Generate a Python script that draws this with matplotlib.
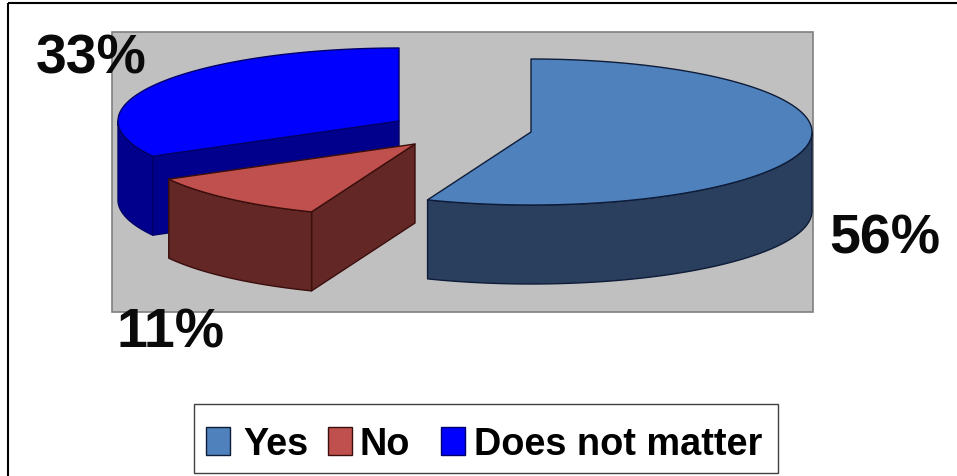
import numpy as np
import matplotlib
matplotlib.use("Agg")
import matplotlib.pyplot as plt
from matplotlib.patches import Polygon, Rectangle

categories = ["Yes", "No", "Does not matter"]
values = [56, 11, 33]
value_labels = ["56%", "11%", "33%"]

top_colors = ["#4F81BD", "#C0504D", "#0000FF"]
wall_colors = ["#2A3F5E", "#632826", "#00008C"]
edge_colors = ["#0E1C38", "#3A0E0C", "#00006A"]

# Exploded slice centres on the canvas (pixel units)
centres = [(531, 133), (415, 145), (399, 122)]
label_anchors = [(829, 254), (117, 348), (36, 73)]
legend_swatch_x = [206, 328, 441]
legend_text_x = [243, 360, 474.5]

RX, RY, DEPTH = 281, 73, 79
FONT = "Liberation Sans"

fig = plt.figure(figsize=(9.57, 4.77), dpi=100)
ax = fig.add_axes([0, 0, 1, 1])
ax.set_xlim(0, 957)
ax.set_ylim(477, 0)
ax.axis("off")


def rim(cx, cy, a0, a1, n=80):
    """Points on the elliptical rim between two clockwise angles from 12 o'clock."""
    t = np.radians(np.linspace(a0, a1, n))
    return np.column_stack([cx + RX * np.sin(t), cy - RY * np.cos(t)])


# Outer frame: top and left rules only
ax.plot([8, 957], [3.5, 3.5], color="black", lw=1.5, solid_capstyle="butt")
ax.plot([8, 8], [3.5, 477], color="black", lw=1.5, solid_capstyle="butt")

# Plot area
ax.add_patch(Rectangle((112, 32.5), 701, 280, fc="#C0C0C0", ec="#808080", lw=1.2))

# Slice extents in degrees, clockwise from the top
edges = np.concatenate([[0], np.cumsum(values)]) / sum(values) * 360
slices = [(i, edges[i], edges[i + 1]) for i in range(len(values))]

# Back slice first, the small front slice last
for i, a0, a1 in [slices[2], slices[0], slices[1]]:
    cx, cy = centres[i]
    shade = dict(fc=wall_colors[i], ec=edge_colors[i], lw=1.0, joinstyle="round")

    # Radial wall facing the viewer
    if 90 < a0 < 270:
        p = rim(cx, cy, a0, a0, 1)[0]
        ax.add_patch(Polygon([(cx, cy), p, (p[0], p[1] + DEPTH), (cx, cy + DEPTH)], **shade))

    # Curved outer wall, only the part on the near side of the ellipse
    w0, w1 = max(a0, 90), min(a1, 270)
    if w1 > w0:
        arc = rim(cx, cy, w0, w1)
        low = (arc + [0, DEPTH])[::-1]
        ax.add_patch(Polygon(np.vstack([arc, low]), **shade))

    # Top face
    face = np.vstack([[(cx, cy)], rim(cx, cy, a0, a1, 160)])
    ax.add_patch(Polygon(face, fc=top_colors[i], ec=edge_colors[i], lw=1.0, joinstyle="round"))

# Percentage labels
for text, (x, y) in zip(value_labels, label_anchors):
    ax.text(x, y, text, fontsize=40, fontweight="bold", family=FONT,
            color="#0A0A0A", ha="left", va="baseline")

# Legend
ax.add_patch(Rectangle((194, 405), 584, 68.5, fc="white", ec="#404040", lw=1.0))
for name, color, edge, sx, tx in zip(categories, top_colors, edge_colors,
                                     legend_swatch_x, legend_text_x):
    ax.add_patch(Rectangle((sx, 428), 24, 28, fc=color, ec=edge, lw=1.0))
    ax.text(tx, 455, name, fontsize=27.3, fontweight="bold", family=FONT,
            color="black", ha="left", va="baseline")

fig.savefig("out.png", dpi=100, facecolor="white")
